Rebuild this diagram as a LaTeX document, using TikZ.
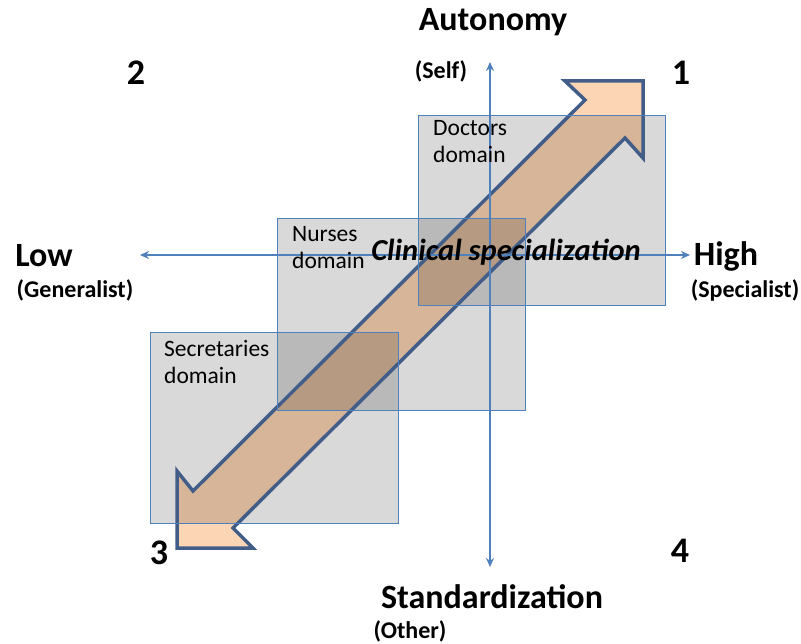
\documentclass[tikz,border=0pt]{standalone}
\usepackage{fontspec}
\setmainfont{Carlito}
\usetikzlibrary{arrows.meta}
\definecolor{axisblue}{RGB}{79,129,189}
\definecolor{arrowline}{RGB}{66,94,136}
\definecolor{peach}{RGB}{252,213,180}
\begin{document}
\begin{tikzpicture}[x=1pt,y=-1pt,
  big/.style={font=\fontsize{34}{36}\selectfont\bfseries, inner sep=0pt},
  small/.style={font=\fontsize{24}{26}\selectfont\bfseries, inner sep=0pt},
  num/.style={font=\fontsize{36}{38}\selectfont\bfseries, inner sep=0pt},
  dom/.style={font=\fontsize{23.5}{27}\selectfont, inner sep=0pt, align=left, anchor=north west},
  domainbox/.style={draw=axisblue, line width=1pt, anchor=north west, inner sep=0pt},
  axisline/.style={draw=axisblue, line width=1.8pt, {Stealth[length=9pt,width=8pt]}-{Stealth[length=9pt,width=8pt]}}]
\useasboundingbox (0,0) rectangle (801,644);
% big double arrow (fill)
\path[fill=peach] (643,81) -- (643,158) -- (625,138) -- (233,528) -- (253,548) -- (177,548) -- (177,471) -- (193,491) -- (585,100) -- (565,81) -- cycle;
% domain shading
\path[fill=black, fill opacity=0.15] (418,115) rectangle (665,305);
\path[fill=black, fill opacity=0.15] (277,218) rectangle (525,410);
\path[fill=black, fill opacity=0.15] (150,332) rectangle (398,523);
% big double arrow (outline)
\draw[arrowline, line width=3.5pt, line join=miter] (643,81) -- (643,158) -- (625,138) -- (233,528) -- (253,548) -- (177,548) -- (177,471) -- (193,491) -- (585,100) -- (565,81) -- cycle;
% domain borders
\node[domainbox, minimum width=247pt, minimum height=190pt] (doc) at (418,115) {};
\node[domainbox, minimum width=248pt, minimum height=192pt] (nur) at (277,218) {};
\node[domainbox, minimum width=248pt, minimum height=191pt] (sec) at (150,332) {};
% axes
\coordinate (L) at (140,255);
\coordinate (R) at (690,255);
\coordinate (T) at (490,62);
\coordinate (B) at (490,567);
\draw[axisline] (L) -- (R);
\draw[axisline] (T) -- (B);
% labels
\node[dom] (docl) at (433,120) {Doctors\\domain};
\node[dom] (nurl) at (292,226) {Nurses\\domain};
\node[dom] (secl) at (164,340) {Secretaries\\domain};
\node[font=\fontsize{30.5}{32}\selectfont\bfseries\itshape, inner sep=0pt] (clin) at (506,252) {Clinical specialization};
\node[big] (auto) at (493,22) {Autonomy};
\node[small] (self) at (441,71) {(Self)};
\node[big] (std) at (492,597) {Standardization};
\node[small] (oth) at (410,631) {(Other)};
\node[big] (low) at (44,256) {Low};
\node[small] (gen) at (75,290) {(Generalist)};
\node[big] (high) at (726,256) {High};
\node[small] (spec) at (745,290) {(Specialist)};
\node[num] (n2) at (136,73) {2};
\node[num] (n1) at (681,73) {1};
\node[num] (n3) at (159,553) {3};
\node[num] (n4) at (680,551) {4};
\end{tikzpicture}
\end{document}
